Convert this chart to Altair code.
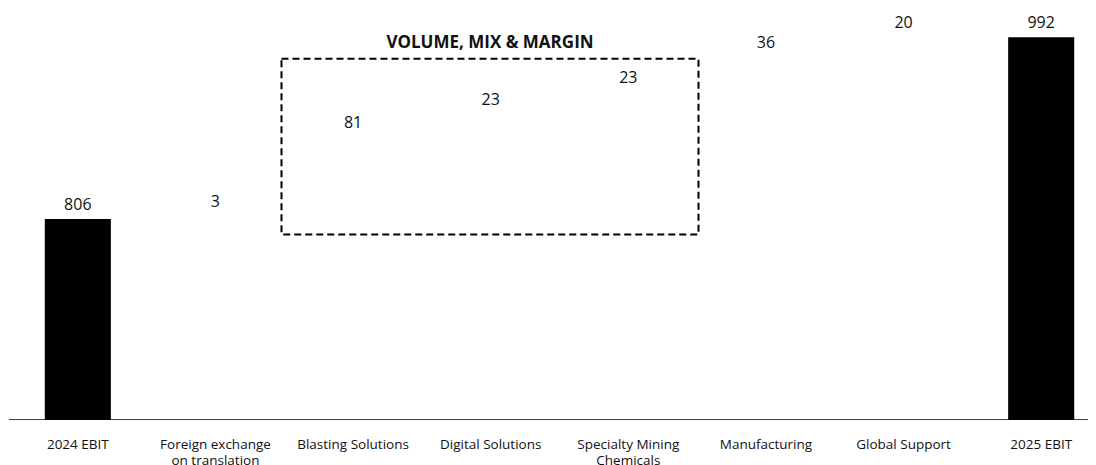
import altair as alt
import pandas as pd

categories = ["2024 EBIT", "Foreign exchange\non translation", "Blasting Solutions",
              "Digital Solutions", "Specialty Mining\nChemicals", "Manufacturing",
              "Global Support", "2025 EBIT"]
values = [806, 3, 81, 23, 23, 36, 20, 992]
kinds = ["total", "delta", "delta", "delta", "delta", "delta", "delta", "total"]

group_title = "VOLUME, MIX & MARGIN"
group_from = 1.48   # category-index units (box edges)
group_to = 4.51
group_low = 790
group_high = 970
title_y = 986
baseline_value = 600

rows = []
running = 0
for i, (c, v, k) in enumerate(zip(categories, values, kinds)):
    if k == "total":
        start, end = 0, v
        running = v
        top = v
    else:
        start, end = running, running + v
        running = end
        top = end
    rows.append({"cat": c, "idx": i, "start": start, "end": end, "top": top,
                 "label": str(v), "kind": k})
df = pd.DataFrame(rows)

FONT = "Open Sans"
ydom = [baseline_value, 1022]
XR = [0, 1101]

xenc = alt.X("cat:N", sort=categories, title=None,
             scale=alt.Scale(paddingInner=0.52, paddingOuter=0.26, range=XR),
             axis=alt.Axis(labelAngle=0, ticks=False, domain=False,
                           labelFont=FONT, labelFontSize=13.5,
                           labelColor="#111", labelPadding=17,
                           labelExpr="split(datum.value, '\\n')",
                           labelLineHeight=16))
yscale = alt.Scale(domain=ydom, nice=False, zero=False)

base = alt.Chart(df)
bars = base.mark_bar(clip=True).encode(
    x=xenc,
    y=alt.Y("start:Q", scale=yscale, axis=None),
    y2="end:Q",
    color=alt.Color("kind:N", scale=alt.Scale(domain=["total", "delta"],
                                              range=["#000000", "#ffffff"]),
                    legend=None),
)
labels = base.mark_text(baseline="alphabetic", dy=-9, font=FONT, fontSize=16,
                        fontWeight=500, color="#111").encode(
    x=alt.X("cat:N", sort=categories),
    y=alt.Y("top:Q", scale=yscale),
    text="label:N",
)

box_df = pd.DataFrame([{"x": group_from, "x2": group_to, "y": group_low,
                        "y2": group_high, "tx": (group_from + group_to) / 2,
                        "ty": title_y, "t": group_title,
                        "bx": -0.5, "bx2": 7.5, "by": baseline_value}])
xq = alt.Scale(domain=[-0.5, 7.5], nice=False, zero=False, range=XR)
box = alt.Chart(box_df).mark_rect(fill=None, stroke="black", strokeWidth=2,
                                  strokeDash=[7, 4]).encode(
    x=alt.X("x:Q", scale=xq, axis=None),
    x2="x2:Q",
    y=alt.Y("y:Q", scale=yscale),
    y2="y2:Q",
)
box_title = alt.Chart(box_df).mark_text(font=FONT, fontSize=17, fontWeight="bold",
                                        color="#111", baseline="middle").encode(
    x=alt.X("tx:Q", scale=xq, axis=None),
    y=alt.Y("ty:Q", scale=yscale),
    text="t:N",
)
base_line = alt.Chart(box_df).mark_rule(color="black", strokeWidth=1.5,
                                        clip=True).encode(
    x=alt.X("bx:Q", scale=xq, axis=None),
    x2="bx2:Q",
    y=alt.Y("by:Q", scale=yscale),
)

main = alt.layer(bars, labels)
over = alt.layer(box, box_title, base_line)
chart = alt.layer(main, over).resolve_scale(x="independent").properties(
    width=1079, height=412,
    autosize=alt.AutoSizeParams(type="none"),
    padding={"left": 1, "top": 0, "right": 0, "bottom": 45},
).configure_view(stroke=None)

chart.save("out.html", embed_options={"renderer": "svg", "actions": False})
